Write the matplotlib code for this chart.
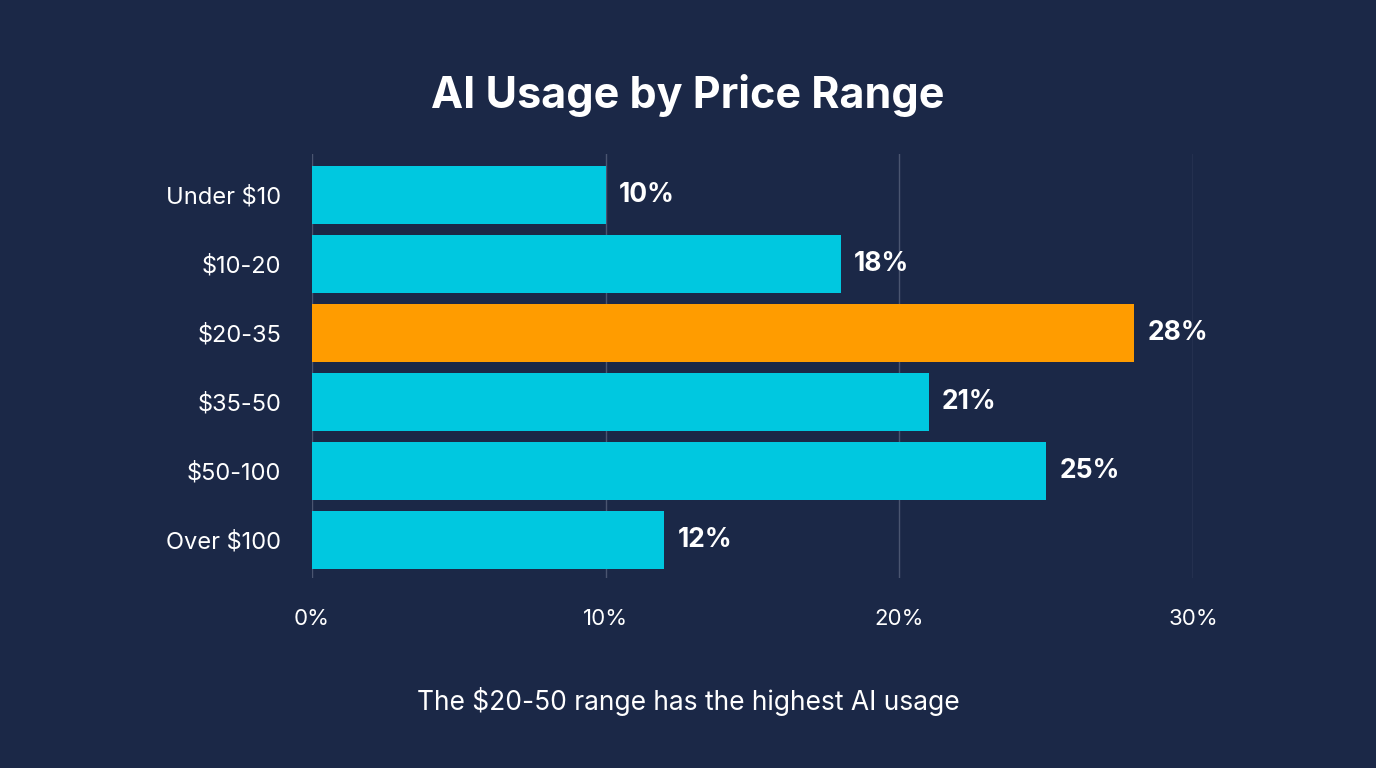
import matplotlib.pyplot as plt

categories = ["Under $10", "$10-20", "$20-35", "$35-50", "$50-100", "Over $100"]
usage = [10, 18, 28, 21, 25, 12]
highlight = "$20-35"
x_ticks = [0, 10, 20, 30]

BG = "#1b2847"
CYAN = "#00c8e0"
ORANGE = "#ff9c00"
plt.rcParams["font.family"] = ["Inter", "DejaVu Sans"]

fig = plt.figure(figsize=(13.76, 7.68), dpi=100, facecolor=BG)
ax = fig.add_axes([0.2267, 0.2474, 0.6403, 0.5526], facecolor=BG)

ypos = list(range(len(categories)))
colors = [ORANGE if c == highlight else CYAN for c in categories]
ax.barh(ypos, usage, height=0.83, color=colors, zorder=3)
for y, v in zip(ypos, usage):
    ax.text(v + 0.45, y, f"{v}%", va="center", ha="left", color="white",
            fontsize=19, fontweight="bold")

ax.set_xlim(0, 30)
ax.set_ylim(5.55, -0.6)
ax.set_yticks(ypos)
ax.set_yticklabels(categories, color="white", fontsize=17)
ax.set_xticks(x_ticks)
ax.set_xticklabels([f"{t}%" for t in x_ticks], color="white", fontsize=16)
ax.tick_params(length=0, pad=22, axis="both")
ax.tick_params(axis="y", pad=22)
ax.grid(axis="x", color="#4a5570", linewidth=1, zorder=0)
for s in ax.spines.values():
    s.set_visible(False)

fig.text(0.5, 0.876, "AI Usage by Price Range", ha="center", va="center",
         color="white", fontsize=31, fontweight="bold")
fig.text(0.5, 0.087, "The $20-50 range has the highest AI usage", ha="center",
         va="center", color="white", fontsize=19)

fig.savefig("out.png", dpi=100, facecolor=BG)
